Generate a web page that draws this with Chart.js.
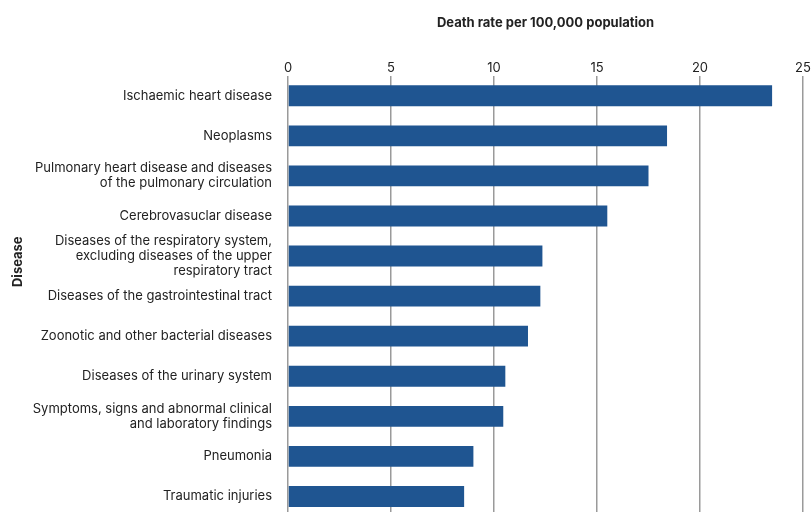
<!DOCTYPE html>
<html>
<head>
<meta charset="utf-8">
<script src="https://cdn.jsdelivr.net/npm/chart.js@4/dist/chart.umd.min.js"></script>
<style>
  html, body { margin: 0; padding: 0; background: #fff; overflow: hidden; }
  canvas { display: block; }
</style>
</head>
<body>
<canvas id="c" width="811" height="540"></canvas>
<script>
const categories = [
  "Ischaemic heart disease",
  "Neoplasms",
  ["Pulmonary heart disease and diseases", "of the pulmonary circulation"],
  "Cerebrovasuclar disease",
  ["Diseases of the respiratory system,", "excluding diseases of the upper", "respiratory tract"],
  "Diseases of the gastrointestinal tract",
  "Zoonotic and other bacterial diseases",
  "Diseases of the urinary system",
  ["Symptoms, signs and abnormal clinical", "and laboratory findings"],
  "Pneumonia",
  "Traumatic injuries"
];
const deathRates = [23.5, 18.4, 17.5, 15.5, 12.35, 12.25, 11.65, 10.55, 10.45, 9.0, 8.55];
const xTickValues = [0, 5, 10, 15, 20, 25];
const xTitle = "Death rate per 100,000 population";
const yTitle = "Disease";

const FONT = "Inter, 'Noto Sans', sans-serif";
const TEXT = "#222222";

const yTitlePlugin = {
  id: 'yTitle',
  afterDraw(chart) {
    const ctx = chart.ctx;
    const a = chart.chartArea;
    ctx.save();
    ctx.translate(18, a.top + 186);
    ctx.rotate(-Math.PI / 2);
    ctx.font = "bold 13px " + FONT;
    ctx.fillStyle = TEXT;
    ctx.textAlign = 'center';
    ctx.textBaseline = 'middle';
    ctx.fillText(yTitle, 0, 0);
    ctx.restore();
  }
};

new Chart(document.getElementById('c'), {
  type: 'bar',
  data: {
    labels: categories,
    datasets: [{
      data: deathRates,
      backgroundColor: '#1f5591',
      borderWidth: 0,
      barPercentage: 0.52,
      categoryPercentage: 1.0
    }]
  },
  options: {
    indexAxis: 'y',
    responsive: false,
    animation: false,
    layout: { padding: { top: 0, right: 0, bottom: 14, left: 0 } },
    plugins: { legend: { display: false }, tooltip: { enabled: false } },
    scales: {
      x: {
        position: 'top',
        min: 0,
        max: 25,
        afterBuildTicks(scale) { scale.ticks = xTickValues.map(v => ({ value: v })); },
        afterFit(scale) { scale.paddingRight = 8; },
        grid: { color: '#9a9a9a', lineWidth: 1.5, drawTicks: false },
        border: { display: false },
        ticks: { font: { family: FONT, size: 13 }, color: TEXT, padding: 0 },
        title: {
          display: true,
          text: xTitle,
          font: { family: FONT, size: 13, weight: 'bold' },
          color: TEXT,
          padding: { top: 15, bottom: 29.5 }
        }
      },
      y: {
        grid: { display: false, drawTicks: false },
        border: { display: false },
        ticks: { font: { family: FONT, size: 13, lineHeight: 1.15 }, color: TEXT, padding: 16, autoSkip: false },
        afterFit(scale) { scale.width = 288; }
      }
    }
  },
  plugins: [yTitlePlugin]
});
</script>
</body>
</html>
